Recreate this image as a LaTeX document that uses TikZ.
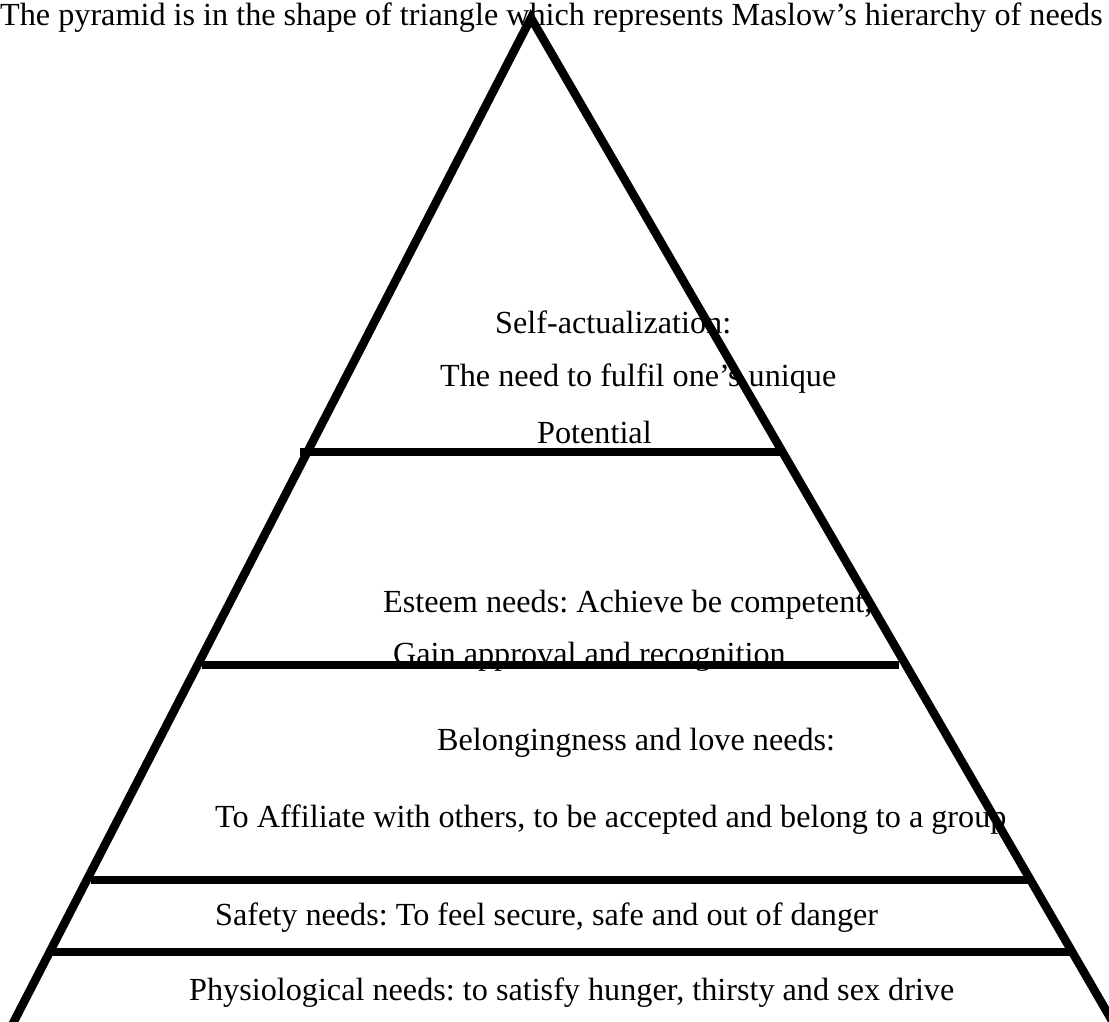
\documentclass[tikz,border=0pt]{standalone}
\usepackage{fontspec}
\setmainfont{Liberation Serif}
\frenchspacing
\begin{document}
\begin{tikzpicture}[x=1pt,y=-1pt,
  lbl/.style={anchor=base west, inner sep=0pt, font=\fontsize{32.2}{38}\selectfont},
  legline/.style={line width=8.5pt, line join=miter, miter limit=20},
  tierline/.style={line width=7.5pt}]
\useasboundingbox (0,0) rectangle (1109,1021);
\clip (0,0) rectangle (1109,1021);
% texts
\node[lbl] (title) at (0,25) {The pyramid is in the shape of triangle which represents Maslow’s hierarchy of needs};
\node[lbl] (self) at (495,333) {Self-actualization:};
\node[lbl] (selfa) at (440,386) {The need to fulfil one’s unique};
\node[lbl] (selfb) at (537,443) {Potential};
\node[lbl] (est) at (383,612) {Esteem needs: Achieve be competent,};
\node[lbl] (esta) at (393,664) {Gain approval and recognition};
\node[lbl] (bel) at (437,750) {Belongingness and love needs:};
\node[lbl] (bela) at (215,827) {To Affiliate with others, to be accepted and belong to a group};
\node[lbl] (saf) at (215,925) {Safety needs: To feel secure, safe and out of danger};
\node[lbl] (phy) at (189,1000) {Physiological needs: to satisfy hunger, thirsty and sex drive};
% triangle
\coordinate (apex) at (531,18);
\coordinate (bl) at (9,1031);
\coordinate (br) at (1118,1031);
\draw[legline] (bl) -- (apex) -- (br);
% tiers
\coordinate (t1l) at (300,452); \coordinate (t1r) at (782,452);
\coordinate (t2l) at (202,665); \coordinate (t2r) at (899,665);
\coordinate (t3l) at (91,880);  \coordinate (t3r) at (1031,880);
\coordinate (t4l) at (48,952);  \coordinate (t4r) at (1075,952);
\draw[tierline] (t1l) -- (t1r);
\draw[tierline] (t2l) -- (t2r);
\draw[tierline] (t3l) -- (t3r);
\draw[tierline] (t4l) -- (t4r);
\end{tikzpicture}
\end{document}
